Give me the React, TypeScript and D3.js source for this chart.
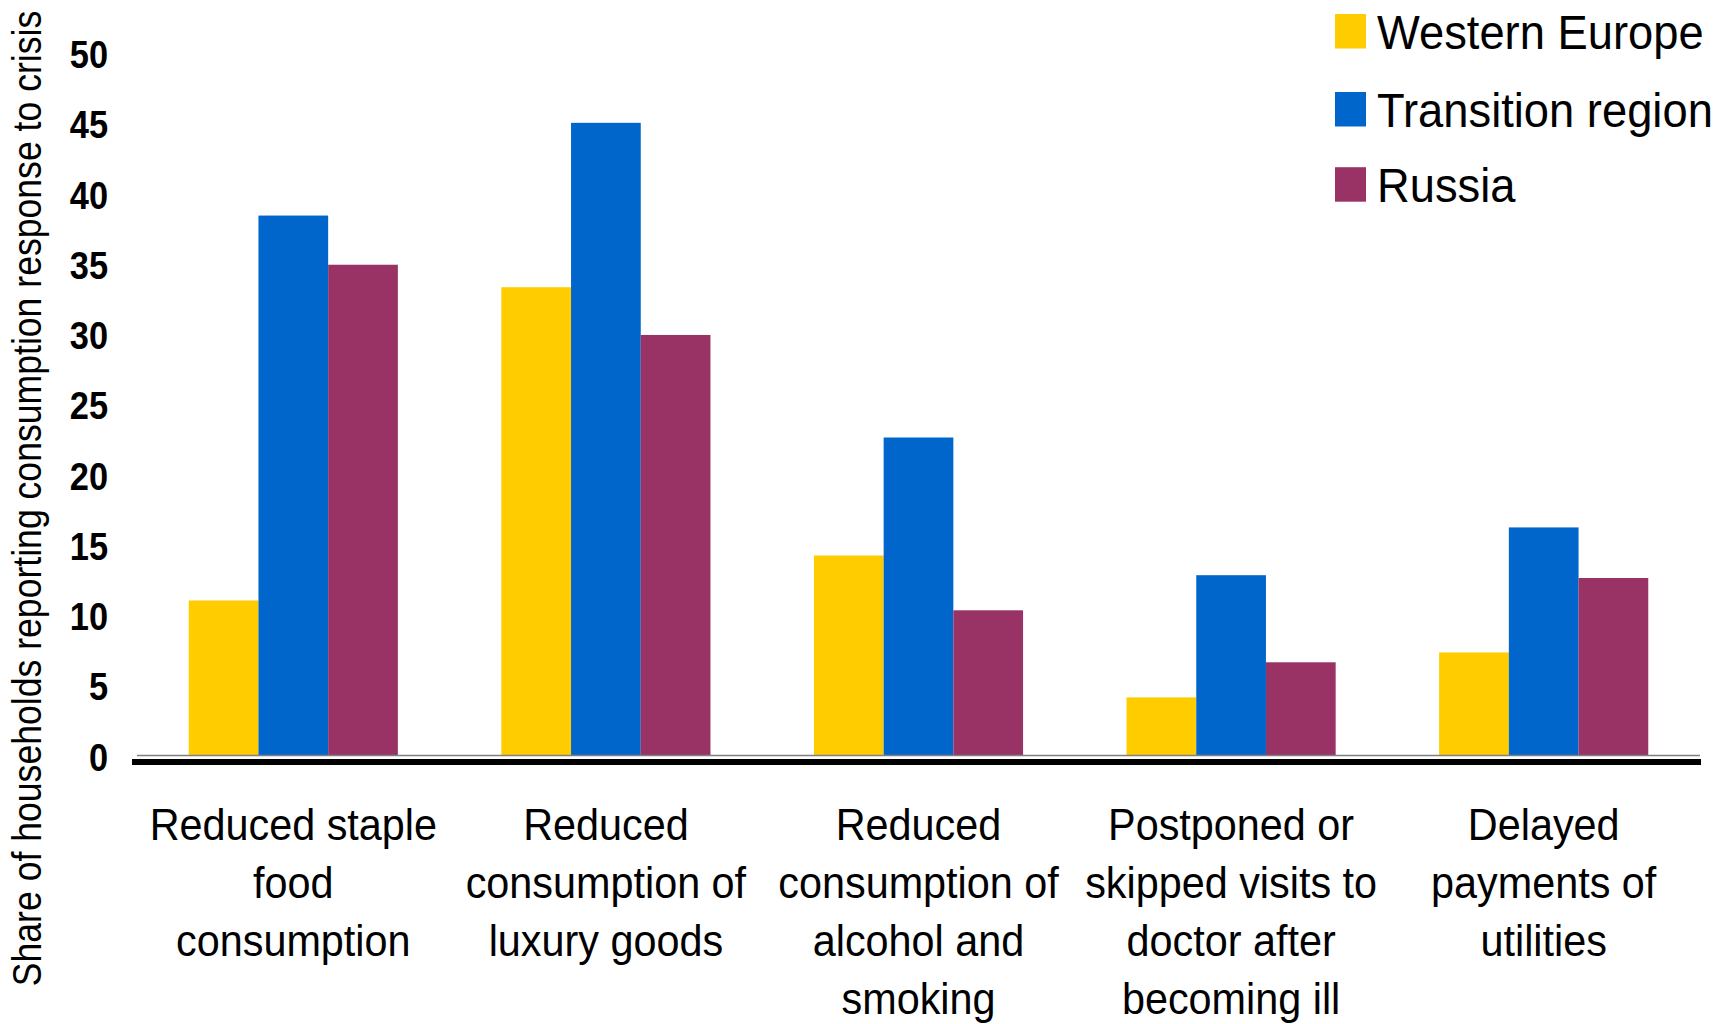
import React from "react";
import * as d3 from "d3";

const categories: string[][] = [
  ["Reduced staple", "food", "consumption"],
  ["Reduced", "consumption of", "luxury goods"],
  ["Reduced", "consumption of", "alcohol and", "smoking"],
  ["Postponed or", "skipped visits to", "doctor after", "becoming ill"],
  ["Delayed", "payments of", "utilities"],
];
const seriesNames = ["Western Europe", "Transition region", "Russia"];
const seriesColors = ["#FFCC00", "#0066CC", "#993366"];
const westernEurope = [11.0, 33.3, 14.2, 4.1, 7.3];
const transitionRegion = [38.4, 45.0, 22.6, 12.8, 16.2];
const russia = [34.9, 29.9, 10.3, 6.6, 12.6];
const yTicks = [0, 5, 10, 15, 20, 25, 30, 35, 40, 45, 50];
const yTitle = "Share of households reporting consumption response to crisis";

const W = 1732;
const H = 1024;
const FONT = "'Liberation Sans', Arial, Helvetica, sans-serif";

export default function App() {
  const seriesValues = [westernEurope, transitionRegion, russia];
  const catIdx = categories.map((_, i) => String(i));
  const x0 = d3
    .scaleBand<string>()
    .domain(catIdx)
    .range([137, 1700])
    .paddingInner(0.331)
    .paddingOuter(0.1655);
  const x1 = d3
    .scaleBand<string>()
    .domain(seriesNames)
    .range([0, x0.bandwidth()])
    .padding(0);
  const y = d3.scaleLinear().domain([0, 50]).range([755, 52.6]);

  const lineBaselines = [840, 898, 956, 1014];
  const legendBaselines = [48.5, 126.5, 201.7];

  return (
    <svg
      width={W}
      height={H}
      style={{ position: "absolute", left: 0, top: 0, display: "block", background: "#fff" }}
      fontFamily={FONT}
    >
      <rect x={0} y={0} width={W} height={H} fill="#fff" />
      {/* bars */}
      {categories.map((_, ci) => (
        <g key={ci} transform={`translate(${x0(String(ci))},0)`}>
          {seriesNames.map((s, si) => {
            const v = seriesValues[si][ci];
            return (
              <rect
                key={s}
                x={x1(s)}
                y={y(v)}
                width={x1.bandwidth()}
                height={y(0) - y(v)}
                fill={seriesColors[si]}
              />
            );
          })}
        </g>
      ))}
      {/* baseline gray */}
      <line x1={137} x2={1700} y1={y(0) + 0.5} y2={y(0) + 0.5} stroke="#808080" strokeWidth={1.5} />
      {/* thick black line */}
      <rect x={132} y={759} width={1569} height={6} fill="#000" />
      {/* y tick labels */}
      {yTicks.map((t) => (
        <text
          key={t}
          transform={`translate(108,${y(t) + 15.5}) scale(0.87,1)`}
          textAnchor="end"
          fontWeight="bold"
          fontSize={39.5}
          fill="#000"
        >
          {t}
        </text>
      ))}
      {/* y title */}
      <text
        transform={`translate(41,498.5) rotate(-90) scale(0.89,1)`}
        textAnchor="middle"
        fontSize={40}
        fill="#000"
      >
        {yTitle}
      </text>
      {/* category labels */}
      {categories.map((lines, ci) => {
        const cx = (x0(String(ci)) as number) + x0.bandwidth() / 2;
        return lines.map((ln, li) => (
          <text
            key={`${ci}-${li}`}
            transform={`translate(${cx},${lineBaselines[li]}) scale(0.94,1)`}
            textAnchor="middle"
            fontSize={44}
            fill="#000"
          >
            {ln}
          </text>
        ));
      })}
      {/* legend */}
      {seriesNames.map((s, si) => (
        <g key={s}>
          <rect x={1335} y={legendBaselines[si] - 34.5} width={31} height={34.5} fill={seriesColors[si]} />
          <text
            transform={`translate(1377,${legendBaselines[si]}) scale(0.925,1)`}
            fontSize={49}
            fill="#000"
          >
            {s}
          </text>
        </g>
      ))}
    </svg>
  );
}
